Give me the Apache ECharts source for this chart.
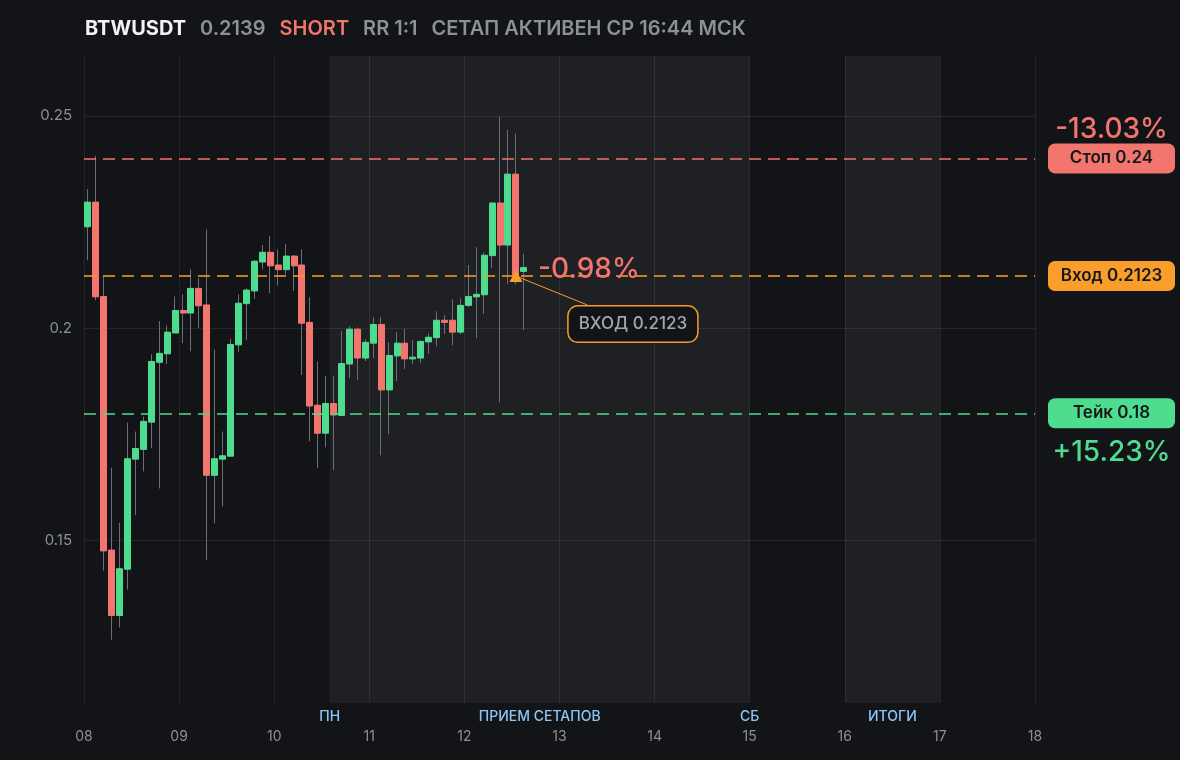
<!DOCTYPE html>
<html>
<head>
<meta charset="utf-8">
<script src="https://cdn.jsdelivr.net/npm/echarts@6/dist/echarts.min.js"></script>
<style>
html,body{margin:0;padding:0;background:#131418;}
#c{width:1180px;height:760px;}
</style>
</head>
<body>
<div id="c"></div>
<script>
// ---- header ----
const ticker = 'BTWUSDT';
const lastPrice = '0.2139';
const side = 'SHORT';
const riskReward = 'RR 1:1';
const statusText = 'СЕТАП АКТИВЕН СР 16:44 МСК';

// ---- candles (2h bars starting at day 08 00:00) ----
const startDay = 8;
const barHours = 2;
const openP  = [0.2239,0.2297,0.2075,0.1478,0.1324,0.1433,0.1692,0.1715,0.1779,0.1920,0.1940,0.1989,0.2042,0.2036,0.2094,0.2055,
                0.1654,0.1692,0.1699,0.1961,0.2058,0.2088,0.2156,0.2179,0.2149,0.2138,0.2170,0.2149,0.2014,0.1819,0.1753,0.1823,
                0.1795,0.1916,0.1998,0.1930,0.1965,0.2009,0.1855,0.1935,0.1965,0.1928,0.1930,0.1968,0.1978,0.2019,0.2019,0.1991,
                0.2054,0.2074,0.2079,0.2171,0.2295,0.2196,0.2363,0.2134];
const closeP = [0.2297,0.2074,0.1476,0.1324,0.1434,0.1693,0.1717,0.1781,0.1922,0.1941,0.1991,0.2042,0.2036,0.2094,0.2053,0.1654,
                0.1693,0.1700,0.1962,0.2059,0.2090,0.2158,0.2179,0.2147,0.2138,0.2170,0.2147,0.2012,0.1817,0.1753,0.1823,0.1796,
                0.1917,0.1998,0.1930,0.1967,0.2009,0.1855,0.1936,0.1965,0.1928,0.1932,0.1969,0.1979,0.2019,0.2014,0.1991,0.2054,
                0.2075,0.2080,0.2172,0.2295,0.2196,0.2363,0.2125,0.2143];
const lowP   = [0.2160,0.2066,0.1430,0.1267,0.1296,0.1385,0.1560,0.1663,0.1718,0.1623,0.1916,0.1989,0.1965,0.1946,0.2001,0.1454,
                0.1541,0.1581,0.1699,0.1944,0.1972,0.2069,0.2139,0.2083,0.2100,0.2127,0.2088,0.1890,0.1734,0.1671,0.1720,0.1666,
                0.1795,0.1883,0.1878,0.1923,0.1930,0.1701,0.1751,0.1876,0.1904,0.1916,0.1918,0.1940,0.1958,0.1986,0.1960,0.1986,
                0.2050,0.1977,0.2034,0.2142,0.1826,0.2104,0.2104,0.1996];
const highP  = [0.2328,0.2406,0.2123,0.1672,0.1542,0.1778,0.1757,0.1792,0.1939,0.2017,0.2007,0.2075,0.2080,0.2139,0.2118,0.2233,
                0.1950,0.1757,0.1976,0.2080,0.2094,0.2160,0.2196,0.2217,0.2186,0.2198,0.2172,0.2186,0.2073,0.1922,0.1888,0.1888,
                0.1993,0.2005,0.2002,0.1974,0.2026,0.2026,0.1967,0.1991,0.1998,0.1972,0.1972,0.1988,0.2040,0.2031,0.2068,0.2071,
                0.2149,0.2191,0.2179,0.2297,0.2498,0.2467,0.2458,0.2175];

// ---- trade levels ----
const stopPrice = 0.24, entryPrice = 0.2123, takePrice = 0.18;
const stopPct = '-13.03%', takePct = '+15.23%', entryPnl = '-0.98%';
const entryBarIndex = 54;

// ---- axes ----
const dayMin = 8, dayMax = 18;
const priceMin = 0.1118, priceMax = 0.2641;
const priceTicks = [0.15, 0.2, 0.25];

// ---- session bands (day units) ----
const bandStarts = [10.5833, 16];
const bandEnds   = [15, 17];
const bandLabelDays  = [10.5833, 12.7917, 15, 16.5];
const bandLabelTexts = ['ПН', 'ПРИЕМ СЕТАПОВ', 'СБ', 'ИТОГИ'];

// ---- colours ----
const UP = '#4edd8e', DOWN = '#f2756e', ORANGE = '#fa9e2b', WICK = '#6c6f76';
const GRAY = '#8d9098', BLUE = '#8cc4f5';
const FONT = 'Inter, "Noto Sans", sans-serif';

const barTime = i => startDay + (i * barHours + barHours / 2) / 24;
const wickData = openP.map((o, i) => [barTime(i), o, closeP[i], lowP[i], highP[i]]);
const bodyData = openP.map((o, i) => [barTime(i), o, closeP[i], Math.min(o, closeP[i]), Math.max(o, closeP[i])]);
const entryX = barTime(entryBarIndex);

function levelLabel(color, boxText, pctText, pctAbove, pctLine) {
  const rich = {
    pct: {fontFamily: FONT, fontSize: 28, fontWeight: 500, color: color, width: 127, align: 'center', height: pctLine, lineHeight: pctLine},
    box: {fontFamily: FONT, fontSize: 17, fontWeight: 600, color: '#17181c', backgroundColor: color, width: 127, height: 30, lineHeight: 30, align: 'center', borderRadius: 7},
    gap: {fontSize: 10, width: 127, height: pctLine, lineHeight: pctLine}
  };
  let f;
  if (pctText == null) f = '{box|' + boxText + '}';
  else if (pctAbove) f = '{pct|' + pctText + '}\n{box|' + boxText + '}\n{gap| }';
  else f = '{gap| }\n{box|' + boxText + '}\n{pct|' + pctText + '}';
  return {show: true, position: 'end', distance: 13, formatter: f, rich: rich};
}

const markLineData = [
  {yAxis: stopPrice, lineStyle: {color: DOWN, type: [12, 7], width: 1.5}, label: levelLabel(DOWN, 'Стоп ' + stopPrice, stopPct, true, 28)},
  {yAxis: entryPrice, lineStyle: {color: ORANGE, type: [12, 7], width: 1.5}, label: levelLabel(ORANGE, 'Вход ' + entryPrice, null)},
  {yAxis: takePrice, lineStyle: {color: UP, type: [12, 7], width: 1.5}, label: levelLabel(UP, 'Тейк ' + takePrice, takePct, false, 48)},
  [
    {coord: [entryX, entryPrice], lineStyle: {color: ORANGE, type: 'solid', width: 1}, label: {show: false}},
    {coord: [entryX + 0.75, entryPrice - 0.0068]}
  ]
];
bandLabelDays.forEach((d, k) => {
  markLineData.push({
    xAxis: d,
    lineStyle: {color: 'rgba(0,0,0,0)', width: 0},
    label: {show: true, position: 'start', distance: 7, formatter: bandLabelTexts[k], color: BLUE, fontSize: 14, fontWeight: 500, fontFamily: FONT}
  });
});

const chart = echarts.init(document.getElementById('c'), null, {renderer: 'canvas'});
chart.setOption({
  backgroundColor: '#131418',
  animation: false,
  title: {
    left: 85, top: 19, padding: 0,
    text: '{a|' + ticker + '}{b|' + lastPrice + '}{c|' + side + '}{b|' + riskReward + '}{d|' + statusText + '}',
    textStyle: {
      rich: {
        a: {fontFamily: FONT, fontSize: 20, fontWeight: 700, color: '#f1f2f4', padding: [0, 14, 0, 0]},
        b: {fontFamily: FONT, fontSize: 20, fontWeight: 600, color: GRAY, padding: [0, 14, 0, 0]},
        c: {fontFamily: FONT, fontSize: 20, fontWeight: 600, color: DOWN, padding: [0, 14, 0, 0]},
        d: {fontFamily: FONT, fontSize: 20, fontWeight: 600, color: GRAY}
      }
    }
  },
  grid: {left: 84, right: 145, top: 56, bottom: 57, containLabel: false, outerBoundsMode: 'none'},
  xAxis: {
    type: 'value', min: dayMin, max: dayMax, interval: 1,
    axisLine: {show: false}, axisTick: {show: false},
    splitLine: {show: true, lineStyle: {color: 'rgba(255,255,255,0.07)', width: 1}},
    axisLabel: {color: GRAY, fontSize: 14, fontFamily: FONT, margin: 27, formatter: v => String(v).padStart(2, '0')}
  },
  yAxis: {
    type: 'value', min: priceMin, max: priceMax, scale: true,
    axisLine: {show: false},
    axisTick: {show: false, customValues: priceTicks},
    splitLine: {show: true, lineStyle: {color: 'rgba(255,255,255,0.08)', width: 1}},
    axisLabel: {color: GRAY, fontSize: 15, fontFamily: FONT, margin: 12, customValues: priceTicks}
  },
  series: [
    {
      type: 'candlestick', name: 'wick', data: wickData, clip: false,
      encode: {x: 0, y: [1, 2, 3, 4]},
      barWidth: 0.6,
      itemStyle: {color: WICK, color0: WICK, borderColor: WICK, borderColor0: WICK, borderWidth: 1},
      markArea: {
        silent: true,
        itemStyle: {color: 'rgba(255,255,255,0.055)'},
        data: bandStarts.map((s, k) => [{xAxis: s}, {xAxis: bandEnds[k]}])
      }
    },
    {
      type: 'candlestick', name: 'body', data: bodyData, clip: false,
      encode: {x: 0, y: [1, 2, 3, 4]},
      barWidth: 6.5,
      itemStyle: {color: UP, color0: DOWN, borderColor: UP, borderColor0: DOWN, borderWidth: 1},
      markLine: {symbol: ['none', 'none'], silent: true, precision: 6, data: markLineData},
      markPoint: {
        silent: true,
        data: [
          {coord: [entryX, entryPrice], symbol: 'triangle', symbolSize: [13, 12], itemStyle: {color: ORANGE}, label: {show: false}},
          {coord: [entryX, entryPrice], symbol: 'circle', symbolSize: 1, itemStyle: {color: 'rgba(0,0,0,0)'},
           label: {show: true, position: 'inside', offset: [73, -6], formatter: entryPnl, color: DOWN, fontSize: 28, fontWeight: 500, fontFamily: FONT}},
          {coord: [entryX, entryPrice], symbol: 'circle', symbolSize: 1, itemStyle: {color: 'rgba(0,0,0,0)'},
           label: {show: true, position: 'inside', offset: [117, 48], formatter: 'ВХОД ' + entryPrice, color: '#a3a6ad', fontSize: 17, fontWeight: 500, fontFamily: FONT,
                   backgroundColor: '#131418', borderColor: ORANGE, borderWidth: 1.5, borderRadius: 9, padding: [9, 10]}}
        ]
      }
    }
  ]
});
</script>
</body>
</html>
